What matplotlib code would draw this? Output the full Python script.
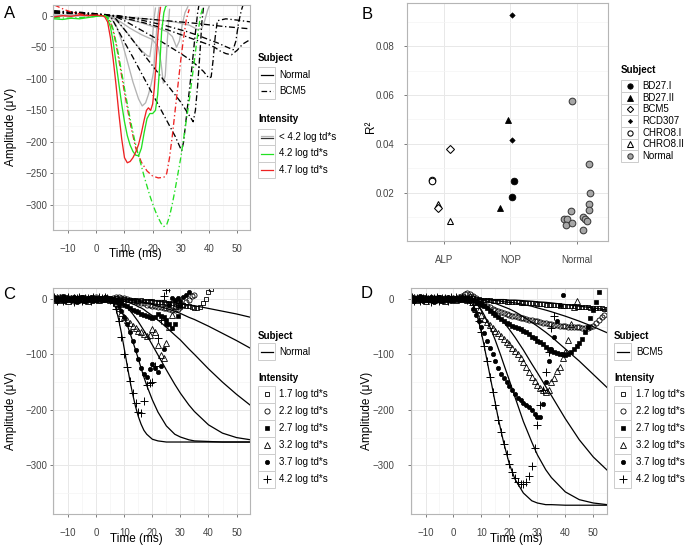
import numpy as np
import matplotlib
matplotlib.use("Agg")
import matplotlib.pyplot as plt
from matplotlib.lines import Line2D
from matplotlib.patches import Rectangle

plt.rcParams['font.family'] = ['Liberation Sans', 'DejaVu Sans']

# ---------------- panel A: raw traces (time ms, amplitude uV) ----------------
# Normal subject, solid lines
a_red_n_t = [-15, -12, -9, -6, -3, 0, 2, 3, 4, 5, 6, 7, 8, 9, 10, 11, 12, 13, 14, 15, 16, 17, 17.8, 18.5, 19.3, 20, 20.6, 21.2, 21.8, 22.4, 22.8]
a_red_n_y = [-2, 0, -1, 1, 0, 1, 0, -2, -10, -35, -70, -110, -155, -195, -225, -233, -231, -225, -216, -204, -186, -165, -150, -146, -150, -140, -115, -75, -35, 0, 13]
a_grn_n_t = [-15, -12, -9, -6, -3, 0, 2, 3, 4, 5, 6, 7, 8, 9, 10, 11, 12, 13, 14, 15, 16, 17, 18, 19, 20, 21, 21.8, 22.5, 23.2, 24, 24.6, 25.2]
a_grn_n_y = [-5, -6, -4, -5, -3, -1, 0, 0, -5, -18, -42, -75, -108, -140, -168, -190, -205, -215, -221, -222, -210, -185, -163, -155, -155, -150, -125, -80, -25, 5, 14, 17]
a_gray_n = [
    ([-15, -10, -5, 0, 3, 5, 7, 9, 11, 13, 15, 16.3, 17.5, 18.5, 19.5, 20.3, 21, 21.7, 22.3],
     [1, 0, 1, 0, 0, -3, -15, -40, -72, -105, -132, -143, -138, -125, -108, -90, -50, -5, 13]),
    ([-15, -5, 0, 4, 6, 8, 10, 12, 14, 16, 18, 19, 19.8, 20.5, 21],
     [0, 1, 0, 0, -4, -12, -22, -33, -45, -55, -63, -65, -40, -5, 12]),
    ([-15, -5, 0, 5, 8, 12, 16, 20, 22, 23, 23.8, 24.5, 25.2, 26],
     [0, 0, 0, 0, -8, -20, -30, -38, -50, -75, -107, -95, -40, 10]),
    ([-15, -5, 0, 5, 10, 15, 20, 25, 27, 28.5, 29.5, 30.5, 31.5, 32.5],
     [1, 0, 0, 0, -5, -10, -17, -25, -33, -50, -40, -15, 5, 14]),
    ([-15, -5, 0, 6, 12, 20, 28, 33, 36, 37.5, 38.5, 39.5, 40.5],
     [0, 1, 0, 0, -3, -6, -10, -15, -22, -20, -8, 8, 20]),
]
# BCM5 subject, dot-dash lines
a_red_b_t = [-15, -13, -11, -9, -7, -5, -3, 0, 3, 4, 5, 6, 7, 8, 10, 12, 14, 16, 18, 20, 22, 24, 25, 26, 27, 28, 29, 30, 31, 32, 33]
a_red_b_y = [17, 13, 9, 6, 4, 2, 1, 0, 0, -3, -10, -25, -45, -70, -122, -170, -210, -232, -246, -254, -257, -256, -250, -225, -190, -150, -110, -70, -35, -5, 10]
a_grn_b_t = [-15, -10, -5, 0, 3, 4, 5, 6, 7, 8, 9, 10, 11, 12, 13, 14, 15, 16, 17, 18, 19, 20, 21, 22, 23, 24, 25, 26, 27, 28, 29, 30, 31, 32, 33, 34, 35, 36, 37, 38]
a_grn_b_y = [-3, -4, -3, -1, 0, -2, -8, -22, -42, -65, -90, -115, -140, -163, -185, -205, -222, -238, -255, -270, -285, -298, -310, -320, -329, -334, -331, -318, -298, -275, -250, -225, -195, -165, -135, -100, -65, -30, 0, 15]
a_black_b = [
    ([-15, -10, -5, 0, 3, 5, 7, 10, 13, 16, 19, 22, 25, 28, 30.3, 31, 32, 33, 34, 35, 36, 36.5],
     [6, 5, 4, 2, 1, 0, -17, -42, -66, -91, -116, -141, -166, -191, -214, -200, -160, -120, -80, -35, 5, 18]),
    ([-15, -10, -5, 0, 3, 6, 10, 14, 18, 22, 26, 30, 33, 34.4, 35.2, 36, 36.8, 37.5, 38.2],
     [7, 6, 5, 3, 2, 0, -22, -45, -68, -91, -114, -137, -158, -168, -150, -110, -60, -10, 18]),
    ([-15, -10, -5, 0, 3, 6, 10, 14, 18, 22, 26, 30, 34, 38, 40, 40.8, 41.5, 42.2, 43, 46, 50, 55],
     [5, 4, 3, 1, 0, 0, -8, -18, -28, -38, -49, -60, -72, -88, -99, -97, -70, -35, -8, -5, -7, -10]),
    ([-15, -10, -5, 0, 4, 8, 12, 16, 20, 24, 28, 32, 36, 40, 43, 46, 48.6, 49.6, 50.5, 51.5, 52.2],
     [8, 6, 5, 3, 1, 0, -3, -7, -11, -15, -20, -25, -31, -38, -43, -49, -54, -40, -12, 8, 18]),
    ([-15, -5, 0, 5, 10, 15, 20, 25, 30, 35, 40, 42, 44, 46, 48, 50, 52, 55],
     [4, 3, 1, 0, -4, -9, -15, -22, -30, -38, -46, -50, -56, -60, -62, -55, -45, -37]),
    ([-15, -5, 0, 5, 15, 25, 35, 45, 55],
     [5, 4, 2, 0, -4, -8, -12, -17, -21]),
]

# ---------------- panel B: R^2 by group ----------------
b_subject = ['CHRO8.I', 'CHRO8.I', 'CHRO8.II', 'BCM5', 'BCM5', 'CHRO8.II',
             'RCD307', 'BD27.II', 'RCD307', 'BD27.I', 'BD27.I', 'BD27.II'] + ['Normal'] * 14
b_group = ['ALP'] * 6 + ['NOP'] * 6 + ['Normal'] * 14
b_jitter = [-0.185, -0.178, -0.09, -0.09, 0.085, 0.09,
            0.03, -0.03, 0.02, 0.05, 0.025, -0.165,
            -0.07, 0.18, 0.195, 0.18, 0.175, -0.085, 0.095, 0.115, 0.155, -0.19, -0.145, -0.16, -0.075, 0.085]
b_r2 = [0.0251, 0.0249, 0.0154, 0.0138, 0.0378, 0.0085,
        0.0929, 0.0497, 0.0415, 0.0250, 0.0181, 0.0139,
        0.0576, 0.0316, 0.0200, 0.0156, 0.0129, 0.0125, 0.0103, 0.0095, 0.0084, 0.0091, 0.0093, 0.0069, 0.0076, 0.0048]
b_categories = ['ALP', 'NOP', 'Normal']
b_subjects_order = ['BD27.I', 'BD27.II', 'BCM5', 'RCD307', 'CHRO8.I', 'CHRO8.II', 'Normal']

# ---------------- panels C, D: data (1 ms samples from -15 ms) and model fits ----------------
intensities = ['1.7', '2.2', '2.7', '3.2', '3.7', '4.2']
pre1 = [3, -4, 2, -3, 1, 4, -2, -5, 2, 3, -3, 1, 2, -4, 3, 0, 4, 2, 3, 1, -1]
pre2 = [-2, 3, -1, 2, 0, -3, 1, 3, -2, 0, 2, -1, -3, 1, 2, 0, -2, 1, 2, 0, -1]
pre3 = [1, -1, 3, 0, -2, 1, 2, -3, 0, 1, -1, 2, 0, -2, 1, 3, -1, 0, 1, 2, 0]
pre4 = [0, 2, -2, 1, 3, -1, 0, 2, -3, 1, 0, -2, 2, 1, -1, 0, 2, -1, 0, 1, 0]
pre5 = [-1, 1, 0, -2, 2, 0, -1, 1, 2, -1, 3, 0, -2, 0, 1, -1, 0, 2, -1, 0, 1]
pre6 = [4, -3, 0, 5, -4, 2, -2, 3, -5, 1, 4, -3, 0, 3, -4, 2, 1, -2, 4, 0, -2]
pre_d22 = [1, -1, 2, 0, -2, 1, 0, -1, 2, 1, -1, 0, 2, -1, 0, 1, 0, 3, 6, 9, 10]

c_data = {
    '1.7': pre4 + [0, 1, 0, -1, 0, -1, -2, -1, -2, -3, -2, -3, -4, -3, -4, -5, -5, -6, -5, -7,
                   -8, -8, -9, -10, -10, -11, -12, -13, -14, -16, -17, -14, -8, 0, 13, 18],
    '2.2': pre3 + [2, 3, 3, 2, 1, 0, -1, -3, -4, -6, -7, -8, -10, -11, -12, -13, -14, -15, -16, -17,
                   -18, -19, -20, -18, -14, -10, -5, -2, 5, 8],
    '2.7': pre5 + [0, -2, -4, -7, -10, -13, -16, -19, -22, -24, -27, -29, -31, -33, -34, -32, -27, -30, -33, -38,
                   -45, -52, -46, -30, -12],
    '3.2': pre2 + [-1, -8, -17, -25, -32, -38, -44, -49, -53, -57, -60, -63, -66, -65, -55, -60, -83, -101, -106, -80,
                   -50, -28, -12, -5],
    '3.7': pre6 + [-2, -6, -12, -22, -33, -46, -60, -76, -92, -108, -124, -136, -140, -126, -118, -124, -132, -120, -90, -45,
                   -10, 2, -2, 1, -3, 3, 8, 12],
    '4.2': pre1 + [-5, -18, -40, -68, -100, -122, -148, -170, -188, -203, -206, -184, -156, -151, -149, -120, -70, -38, 5, 16, 19],
}
d_data = {
    '1.7': pre4 + [2, 1, 0, 0, -1, -1, -2, -2, -3, -3, -4, -4, -4, -5, -5, -6, -6, -6, -7, -7,
                   -7, -8, -8, -8, -9, -9, -9, -10, -10, -11, -11, -11, -12, -12, -12, -13, -13, -13, -14, -14,
                   -14, -15, -15, -16, -16, -16, -17, -17, -18, -18],
    '2.2': pre_d22 + [9, 6, 2, -3, -7, -10, -13, -15, -18, -20, -22, -24, -25, -27, -28, -30, -31, -33, -34, -35,
                      -36, -37, -38, -39, -40, -41, -43, -44, -45, -46, -47, -47, -48, -49, -49, -50, -50, -51, -51, -51,
                      -52, -52, -52, -50, -48, -43, -38, -32, -28],
    '2.7': pre5 + [0, -2, -5, -7, -10, -13, -17, -21, -25, -29, -33, -36, -40, -43, -45, -48, -50, -52, -55, -57,
                   -60, -64, -68, -71, -75, -78, -82, -86, -90, -93, -96, -98, -99, -100, -101, -100, -96, -90, -85, -80,
                   -72, -60, -50, -35, -20, -5, 12],
    '3.2': pre2 + [5, 3, -10, -20, -28, -36, -42, -47, -52, -57, -62, -67, -72, -77, -82, -88, -94, -100, -107, -114,
                   -122, -131, -140, -148, -155, -160, -164, -167, -165, -150, -143, -130, -122, -106, -95, -74, -45, -15, -4],
    '3.7': pre6 + [-3, -18, -28, -40, -50, -62, -75, -88, -100, -112, -124, -135, -143, -150, -157, -164, -171, -178, -183, -188,
                   -191, -194, -200, -208, -212, -212, -190, -150, -112, -90, -68, -40, -10, 7],
    '4.2': pre1 + [-3, -10, -23, -40, -60, -85, -112, -140, -168, -192, -218, -240, -262, -280, -298, -312, -323, -330, -333, -334,
                   -330, -320, -302, -268, -228, -192, -165, -131, -95, -53, -30],
}
fit_t = [-15, 5, 6, 7, 8, 9, 10, 11, 12, 13, 14, 15, 16, 17, 18, 20, 22, 25, 28, 30, 33, 35, 40, 45, 50, 55]
c_fit = {
    '1.7': [0, 0, 0, 0, 0, 0, 0, -1, -1, -1, -1, -1, -2, -2, -2, -3, -4, -6, -7, -9, -11, -12, -17, -22, -27, -33],
    '2.2': [0, 0, 0, 0, 0, -1, -1, -2, -2, -3, -4, -4, -5, -6, -7, -10, -13, -17, -22, -26, -33, -37, -49, -62, -75, -89],
    '2.7': [0, 0, 0, -1, -1, -2, -4, -5, -7, -9, -11, -14, -16, -19, -23, -30, -38, -51, -65, -74, -90, -100, -126, -150, -172, -192],
    '3.2': [0, 0, 0, -2, -4, -7, -11, -16, -21, -27, -34, -41, -49, -57, -65, -83, -101, -128, -154, -170, -191, -203, -227, -242, -250, -254],
    '3.7': [0, 0, -1, -6, -12, -22, -33, -46, -61, -76, -92, -108, -125, -141, -156, -182, -204, -229, -244, -249, -254, -256, -257, -258, -258, -258],
    '4.2': [0, 0, -4, -17, -37, -62, -90, -119, -147, -172, -194, -212, -226, -237, -244, -253, -256, -258, -258, -258, -258, -258, -258, -258, -258, -258],
}
d_fit = {
    '1.7': [0, 0, 0, 0, 0, 0, 0, 0, 0, -1, -1, -1, -1, -1, -1, -2, -2, -3, -4, -5, -6, -7, -10, -13, -16, -20],
    '2.2': [0, 0, 0, 0, 0, 0, -1, -1, -1, -2, -2, -3, -3, -4, -5, -6, -7, -10, -13, -16, -20, -23, -31, -40, -50, -61],
    '2.7': [0, 0, 0, 0, -1, -1, -2, -3, -4, -5, -7, -8, -10, -12, -14, -18, -23, -32, -42, -49, -60, -68, -90, -112, -136, -160],
    '3.2': [0, 0, 0, -1, -2, -4, -7, -9, -13, -17, -21, -26, -31, -36, -42, -55, -69, -92, -117, -133, -158, -174, -216, -254, -285, -309],
    '3.7': [0, 0, -1, -3, -8, -13, -20, -29, -39, -50, -62, -75, -89, -103, -118, -147, -177, -221, -258, -281, -308, -322, -348, -362, -368, -371],
    '4.2': [0, 0, -3, -11, -23, -40, -61, -85, -111, -137, -163, -189, -215, -238, -260, -298, -325, -350, -364, -368, -371, -371, -372, -372, -372, -372],
}

# ---------------- figure ----------------
W, H = 689, 549
fig = plt.figure(figsize=(W / 100, H / 100), dpi=100)
fig.patch.set_facecolor('white')

TICK_FS = 7
LEG_FS = 7
TITLE_FS = 8.5
GRID_MAJ = '#E8E8E8'
GRID_MIN = '#F4F4F4'


def fx(x):
    return x / W


def fy(y):
    return 1 - y / H


def axes_px(l, t, r, b):
    return fig.add_axes([l / W, 1 - b / H, (r - l) / W, (b - t) / H])


def style(ax, ypad_px=2.5, xpad_px=10.5):
    for s in ax.spines.values():
        s.set_color('#B5B5B5')
        s.set_linewidth(0.8)
    ax.grid(which='major', color=GRID_MAJ, lw=0.7)
    ax.grid(which='minor', color=GRID_MIN, lw=0.5)
    ax.set_axisbelow(True)
    ax.tick_params(which='major', length=2.5, width=0.6, color='#666666',
                   labelsize=TICK_FS, labelcolor='#454545')
    ax.tick_params(axis='y', pad=ypad_px * 0.72)
    ax.tick_params(axis='x', pad=xpad_px * 0.72)
    ax.tick_params(which='minor', length=0)


def leg_title(x, y, s):
    fig.text(fx(x), fy(y), s, fontsize=LEG_FS, fontweight='bold', va='center', ha='left')


def leg_label(x, y, s):
    fig.text(fx(x), fy(y), s, fontsize=LEG_FS, va='center', ha='left')


def leg_box(x, yc, w, h):
    fig.add_artist(Rectangle((fx(x), fy(yc + h / 2)), w / W, h / H, transform=fig.transFigure,
                             fc='white', ec='#CCCCCC', lw=0.7))


def leg_line(x, yc, w, **kw):
    fig.add_artist(Line2D([fx(x + 2.5), fx(x + w - 2.5)], [fy(yc), fy(yc)], transform=fig.transFigure, **kw))


def leg_marker(x, yc, w, **kw):
    fig.add_artist(Line2D([fx(x + w / 2)], [fy(yc)], transform=fig.transFigure, ls='none', **kw))


DOTDASH = (0, (4.5, 2.0, 1.0, 2.0))
RED = '#EE2222'
GREEN = '#22E022'
GRAY = '#B3B3B3'

# ---- Panel A ----
axA = axes_px(53.3, 4.5, 250, 230)
style(axA)
for t, y in a_gray_n:
    axA.plot(t, y, color=GRAY, lw=0.95)
for t, y in a_black_b:
    axA.plot(t, y, color='black', lw=0.95, ls=DOTDASH)
axA.plot(a_red_b_t, a_red_b_y, color=RED, lw=0.95, ls=DOTDASH)
axA.plot(a_grn_b_t, a_grn_b_y, color=GREEN, lw=0.95, ls=DOTDASH)
axA.plot(a_grn_n_t, a_grn_n_y, color=GREEN, lw=0.95)
axA.plot(a_red_n_t, a_red_n_y, color=RED, lw=0.95)
axA.set_xlim(-15.3, 54.6)
axA.set_ylim(-339.5, 17.7)
axA.set_xticks([-10, 0, 10, 20, 30, 40, 50])
axA.set_xticks([-15, -5, 5, 15, 25, 35, 45], minor=True)
axA.set_yticks([0, -50, -100, -150, -200, -250, -300])
axA.set_yticks([-25, -75, -125, -175, -225, -275, -325], minor=True)

fig.text(fx(135), fy(254), 'Time (ms)', fontsize=TITLE_FS, ha='center', va='center')
fig.text(fx(11), fy(127), 'Amplitude (μV)', fontsize=TITLE_FS, ha='center', va='center', rotation=90)
fig.text(fx(9.5), fy(13), 'A', fontsize=12, ha='center', va='center')

leg_title(258, 58, 'Subject')
for yc, ls, lab in [(75, '-', 'Normal'), (91, DOTDASH, 'BCM5')]:
    leg_box(258, yc, 17, 16)
    leg_line(258, yc, 17, color='black', lw=0.9, ls=ls)
    leg_label(279, yc, lab)
leg_title(258, 119, 'Intensity')
leg_box(258, 137, 17, 16.5)
leg_line(258, 135.8, 17, color=GRAY, lw=0.9)
leg_line(258, 138.2, 17, color='#333333', lw=0.9)
leg_label(279, 137, '< 4.2 log td*s')
for yc, col, lab in [(153.5, GREEN, '4.2 log td*s'), (170, RED, '4.7 log td*s')]:
    leg_box(258, yc, 17, 16.5)
    leg_line(258, yc, 17, color=col, lw=0.9)
    leg_label(279, yc, lab)

# ---- Panel B ----
b_style = {
    'BD27.I': dict(marker='o', ms=4.8, mfc='black', mec='black', mew=0.6),
    'BD27.II': dict(marker='^', ms=5.0, mfc='black', mec='black', mew=0.6),
    'BCM5': dict(marker='D', ms=4.0, mfc='white', mec='black', mew=0.75),
    'RCD307': dict(marker='D', ms=2.8, mfc='black', mec='black', mew=0.4),
    'CHRO8.I': dict(marker='o', ms=4.7, mfc='white', mec='black', mew=0.75),
    'CHRO8.II': dict(marker='^', ms=5.0, mfc='white', mec='black', mew=0.75),
    'Normal': dict(marker='o', ms=4.8, mfc='#A6A6A6', mec='#3A3A3A', mew=0.75),
}
axB = axes_px(406.7, 3.3, 608.3, 241)
style(axB, ypad_px=8.5, xpad_px=10.5)
for subj in b_subjects_order[::-1]:
    xs = [b_categories.index(g) + 1 + j for s, g, j in zip(b_subject, b_group, b_jitter) if s == subj]
    ys = [v for s, v in zip(b_subject, b_r2) if s == subj]
    axB.plot(xs, ys, ls='none', **b_style[subj])
axB.set_xlim(0.44, 3.47)
axB.set_ylim(0.0003, 0.0975)
axB.set_xticks([1, 2, 3])
axB.set_xticklabels(b_categories)
axB.set_yticks([0.02, 0.04, 0.06, 0.08])
axB.set_yticklabels(['0.02', '0.04', '0.06', '0.08'])
axB.set_yticks([0.01, 0.03, 0.05, 0.07, 0.09], minor=True)
axB.xaxis.grid(which='minor', visible=False)
fig.text(fx(371), fy(127), 'R²', fontsize=TITLE_FS, ha='center', va='center', rotation=90)
fig.text(fx(366.7), fy(14.7), 'B', fontsize=12, ha='center', va='center')

leg_title(621, 70, 'Subject')
for i, subj in enumerate(b_subjects_order):
    yc = 86 + i * 11.67
    leg_box(621, yc, 17, 11.67)
    st = dict(b_style[subj])
    st['ms'] = st['ms'] * 0.8
    leg_marker(621, yc, 17, **st)
    leg_label(642.7, yc, subj)

# ---- Panels C and D ----
mk_style = {
    '1.7': dict(marker='s', ms=3.4, mfc='none', mec='black', mew=0.6),
    '2.2': dict(marker='o', ms=3.7, mfc='none', mec='black', mew=0.6),
    '2.7': dict(marker='s', ms=3.0, mfc='black', mec='black', mew=0.5),
    '3.2': dict(marker='^', ms=4.2, mfc='none', mec='black', mew=0.6),
    '3.7': dict(marker='o', ms=3.1, mfc='black', mec='black', mew=0.5),
    '4.2': dict(marker='+', ms=5.2, mec='black', mew=0.7),
}


def fit_panel(ax, data, fits):
    style(ax)
    for k in intensities:
        vals = data[k]
        t = np.arange(-15, -15 + len(vals))
        ax.plot(t, vals, ls='none', **mk_style[k])
    for k in intensities:
        ax.plot(fit_t, fits[k], color='black', lw=0.9)
    ax.set_xlim(-15.3, 54.8)
    ax.set_ylim(-388.4, 19.3)
    ax.set_xticks([-10, 0, 10, 20, 30, 40, 50])
    ax.set_xticks([-15, -5, 5, 15, 25, 35, 45], minor=True)
    ax.set_yticks([0, -100, -200, -300])
    ax.set_yticks([-50, -150, -250, -350], minor=True)


axC = axes_px(53.3, 288.3, 250, 514.3)
fit_panel(axC, c_data, c_fit)
axD = axes_px(410.7, 288.3, 606.7, 514.3)
fit_panel(axD, d_data, d_fit)
axD.tick_params(axis='y', pad=13 * 0.72)

fig.text(fx(136), fy(539), 'Time (ms)', fontsize=TITLE_FS, ha='center', va='center')
fig.text(fx(516.5), fy(539), 'Time (ms)', fontsize=TITLE_FS, ha='center', va='center')
fig.text(fx(11), fy(411), 'Amplitude (μV)', fontsize=TITLE_FS, ha='center', va='center', rotation=90)
fig.text(fx(367), fy(411), 'Amplitude (μV)', fontsize=TITLE_FS, ha='center', va='center', rotation=90)
fig.text(fx(9.5), fy(294.7), 'C', fontsize=12, ha='center', va='center')
fig.text(fx(367), fy(294), 'D', fontsize=12, ha='center', va='center')

for x0, lab_x, subj in [(258, 279, 'Normal'), (614, 636, 'BCM5')]:
    leg_title(x0, 336, 'Subject')
    leg_box(x0, 351.7, 17, 17)
    leg_line(x0, 351.7, 17, color='black', lw=0.9)
    leg_label(lab_x, 351.7, subj)
    leg_title(x0, 377.7, 'Intensity')
    for i, k in enumerate(intensities):
        yc = 394.3 + i * 17
        leg_box(x0, yc, 17, 17)
        leg_marker(x0, yc, 17, **mk_style[k])
        leg_label(lab_x, yc, k + ' log td*s')

fig.savefig('out.png', dpi=100)
